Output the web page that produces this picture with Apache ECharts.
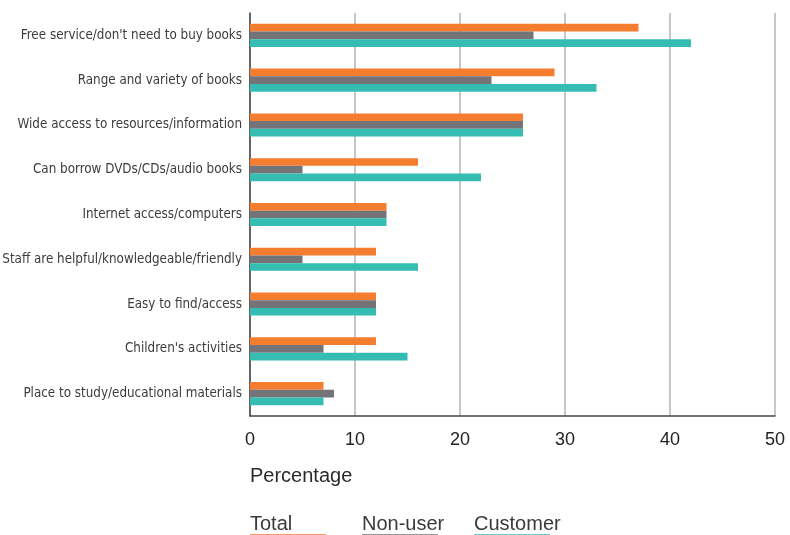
<!DOCTYPE html>
<html>
<head>
<meta charset="utf-8">
<script src="https://cdn.jsdelivr.net/npm/echarts@6/dist/echarts.min.js"></script>
<style>html,body{margin:0;padding:0;background:#fff}#c{width:790px;height:535px}</style>
</head>
<body>
<div id="c"></div>
<script>
var categories = [
  "Free service/don't need to buy books",
  "Range and variety of books",
  "Wide access to resources/information",
  "Can borrow DVDs/CDs/audio books",
  "Internet access/computers",
  "Staff are helpful/knowledgeable/friendly",
  "Easy to find/access",
  "Children's activities",
  "Place to study/educational materials"
];
var totalValues    = [37, 29, 26, 16, 13, 12, 12, 12, 7];
var nonUserValues  = [27, 23, 26, 5, 13, 5, 12, 7, 8];
var customerValues = [42, 33, 26, 22, 13, 16, 12, 15, 7];
var seriesNames = ["Total", "Non-user", "Customer"];
var tickMin = 0, tickMax = 50, tickStep = 10;
var axisTitle = "Percentage";

var colors = ["#F47D30", "#737378", "#35BDB3"];
var seriesData = [totalValues, nonUserValues, customerValues];
var legendLefts = [245, 357, 469];

var chart = echarts.init(document.getElementById('c'), null, {renderer: 'canvas'});

var legends = seriesNames.map(function (n, i) {
  var rich = {
    t: {fontSize: 20, color: '#3a3a3a', fontFamily: 'Liberation Sans', lineHeight: 20},
    u: {width: 76, height: 1.5, fontSize: 1, lineHeight: 2, backgroundColor: colors[i]}
  };
  return {
    data: [n],
    left: legendLefts[i],
    top: 514,
    padding: 0,
    orient: 'horizontal',
    itemWidth: 0,
    itemHeight: 0,
    itemGap: 0,
    selectedMode: false,
    icon: 'rect',
    formatter: function (name) { return '{t|' + name + '}\n{u| }'; },
    textStyle: {rich: rich}
  };
});

chart.setOption({
  animation: false,
  color: colors,
  title: {
    text: axisTitle,
    left: 250,
    top: 466,
    padding: 0,
    textStyle: {fontSize: 20, fontWeight: 'normal', color: '#2a2a2a', fontFamily: 'Liberation Sans'}
  },
  legend: legends,
  grid: {left: 250, right: 15, top: 13, bottom: 119, containLabel: false, outerBoundsMode: 'none'},
  xAxis: {
    type: 'value',
    min: tickMin,
    max: tickMax,
    interval: tickStep,
    axisLine: {show: true, lineStyle: {color: '#444', width: 1.5}},
    axisTick: {show: false},
    splitLine: {show: true, lineStyle: {color: '#b4b4b4', width: 1.5}},
    axisLabel: {fontSize: 18, color: '#222', fontFamily: 'Liberation Sans', margin: 15}
  },
  yAxis: {
    type: 'category',
    inverse: true,
    data: categories,
    axisLine: {show: true, lineStyle: {color: '#444', width: 1.5}},
    axisTick: {show: false},
    axisLabel: {fontSize: 13.3, color: '#3c3c3c', fontFamily: 'DejaVu Sans Condensed', margin: 8}
  },
  series: seriesNames.map(function (n, i) {
    return {
      name: n,
      type: 'bar',
      data: seriesData[i],
      barWidth: 7.7,
      barGap: '0%',
      itemStyle: {color: colors[i]}
    };
  })
});
</script>
</body>
</html>
